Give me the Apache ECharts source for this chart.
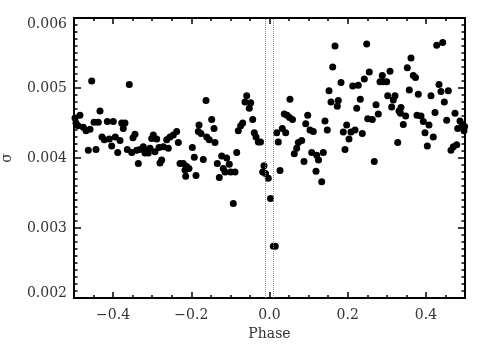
<!DOCTYPE html>
<html>
<head>
<meta charset="utf-8">
<script src="https://cdn.jsdelivr.net/npm/echarts@6/dist/echarts.min.js"></script>
<style>html,body{margin:0;padding:0;background:#fff;}#c{width:491px;height:351px;}</style>
</head>
<body>
<div id="c"></div>
<script>
var phase = [
-0.4547,-0.3586,-0.4847,-0.4335,-0.4974,-0.4949,-0.4898,-0.4762,-0.4693,-0.4591,
-0.4488,-0.4379,-0.4148,-0.3995,-0.3780,-0.3696,-0.3739,-0.4284,-0.4225,-0.4097,
-0.3944,-0.3824,-0.4036,-0.3440,-0.3491,-0.4634,-0.4437,-0.3882,-0.3637,-0.3524,
-0.3396,-0.3355,
-0.3312,-0.3228,-0.3141,-0.3056,-0.3100,-0.3184,-0.3013,-0.2972,-0.2885,-0.2826,
-0.2716,-0.2928,-0.2629,-0.2588,-0.2545,-0.2460,-0.2373,-0.2332,-0.2757,-0.2801,
-0.2289,-0.2205,-0.2118,-0.2059,-0.2161,-0.1974,-0.1923,-0.2143,-0.1880,-0.1803,
-0.1821,-0.1752,-0.1693,
-0.1624,-0.1478,-0.1419,-0.1606,-0.1540,-0.1394,-0.1223,-0.1095,-0.1335,-0.1028,
-0.1182,-0.1138,-0.0992,-0.0882,-0.1284,-0.0839,-0.0926,-0.0583,-0.0627,-0.0481,
-0.0517,-0.0685,-0.0737,-0.0798,-0.0430,-0.0389,-0.0345,-0.0286,-0.0230,-0.0141,
-0.0174,
-0.0102,-0.0031,0.0026,0.0097,0.0148,0.0184,0.0225,0.0269,0.0327,0.0414,
0.0524,0.0379,0.0448,0.0512,0.0588,0.0977,0.0926,0.1036,0.1120,0.0824,
0.0737,0.0696,0.0634,0.0882,0.1079,0.1207,0.1253,0.1189,0.1335,
0.1675,0.2486,0.1616,0.1829,0.1522,0.1573,0.1760,0.1734,0.2128,0.2271,
0.2425,0.2552,0.2322,0.2230,0.2512,0.1419,0.1478,0.1974,0.1887,0.2084,
0.2187,0.2373,0.2033,0.1931,0.1376,
0.3619,0.3524,0.3082,0.2885,0.2826,0.2910,0.2997,0.3678,0.3734,0.3575,
0.3806,0.3023,0.3210,0.3166,0.2724,0.3125,0.3363,0.3312,0.3350,0.3483,
0.2783,0.2629,0.3772,0.3422,0.3279,0.2680,
0.4276,0.4430,0.4335,0.4386,0.4573,0.4130,0.4471,0.4233,0.4744,0.3875,
0.3934,0.4532,0.4079,0.4872,0.4931,0.4813,0.4974,0.4990,0.3977,0.4189,
0.4036,0.4642,0.4701,0.4788
];
var sigma = [
0.00510,0.00505,0.00461,0.00467,0.00457,0.00450,0.00446,0.00444,0.00439,0.00441,
0.00451,0.00451,0.00452,0.00452,0.00450,0.00450,0.00442,0.00430,0.00426,0.00427,
0.00430,0.00425,0.00417,0.00434,0.00429,0.00411,0.00412,0.00408,0.00412,0.00408,
0.00411,0.00392,
0.00412,0.00416,0.00411,0.00414,0.00407,0.00407,0.00428,0.00433,0.00427,0.00415,
0.00416,0.00409,0.00426,0.00414,0.00430,0.00433,0.00438,0.00422,0.00397,0.00393,
0.00392,0.00392,0.00388,0.00385,0.00383,0.00415,0.00401,0.00374,0.00375,0.00447,
0.00438,0.00435,0.00398,
0.00482,0.00455,0.00442,0.00430,0.00426,0.00422,0.00403,0.00400,0.00392,0.00391,
0.00385,0.00380,0.00380,0.00380,0.00372,0.00408,0.00335,0.00489,0.00480,0.00479,
0.00471,0.00450,0.00446,0.00439,0.00455,0.00436,0.00430,0.00423,0.00423,0.00389,
0.00380,
0.00378,0.00371,0.00342,0.00274,0.00274,0.00436,0.00423,0.00382,0.00442,0.00436,
0.00484,0.00463,0.00461,0.00458,0.00455,0.00461,0.00449,0.00440,0.00438,0.00425,
0.00422,0.00414,0.00406,0.00395,0.00408,0.00404,0.00397,0.00381,0.00366,
0.00560,0.00563,0.00530,0.00508,0.00496,0.00480,0.00482,0.00474,0.00503,0.00504,
0.00513,0.00523,0.00484,0.00471,0.00456,0.00453,0.00440,0.00447,0.00437,0.00437,
0.00440,0.00435,0.00427,0.00412,0.00408,
0.00543,0.00529,0.00524,0.00518,0.00509,0.00509,0.00509,0.00518,0.00515,0.00497,
0.00491,0.00489,0.00489,0.00483,0.00476,0.00473,0.00472,0.00467,0.00464,0.00460,
0.00463,0.00455,0.00461,0.00448,0.00422,0.00395,
0.00561,0.00565,0.00505,0.00495,0.00496,0.00489,0.00480,0.00465,0.00464,0.00460,
0.00452,0.00454,0.00447,0.00453,0.00448,0.00442,0.00439,0.00445,0.00436,0.00430,
0.00417,0.00411,0.00416,0.00419
];
var xMajorTicks = [-0.4, -0.2, 0.0, 0.2, 0.4];
var transitLines = [-0.013, 0.011];

var points = phase.map(function (p, i) { return [p, sigma[i]]; });
var font = 'DejaVu Serif';
var ink = '#000';
var textInk = '#333';
function fmtX(v) { return (v < 0 ? '\u2212' : '') + Math.abs(v).toFixed(1); }

var chart = echarts.init(document.getElementById('c'), null, {renderer: 'canvas'});
var lineStyle = {color: ink, width: 2};
function xAx(pos, major, labels) {
  var a = {
    type: 'value', position: pos, min: -0.5, max: 0.5,
    axisLine: {show: true, onZero: false, lineStyle: lineStyle},
    splitLine: {show: false},
    axisTick: {show: true, inside: true, length: major ? 6 : 3, lineStyle: {color: ink, width: 1.5}},
    axisLabel: {show: false}
  };
  if (major) {
    a.axisTick.customValues = xMajorTicks;
    if (labels) {
      a.axisLabel = {show: true, customValues: xMajorTicks, formatter: fmtX, margin: 10,
        fontFamily: font, fontSize: 14, color: textInk};
      a.name = 'Phase'; a.nameLocation = 'middle'; a.nameGap = 29;
      a.nameTextStyle = {fontFamily: font, fontSize: 14, color: textInk};
    }
  } else {
    a.interval = 0.05;
  }
  return a;
}
function yAx(pos, labels) {
  var a = {
    type: 'value', position: pos, min: 0.002, max: 0.006, interval: 0.001,
    axisLine: {show: true, onZero: false, lineStyle: lineStyle},
    splitLine: {show: false},
    axisTick: {show: true, inside: true, length: 7, lineStyle: {color: ink, width: 1.5}},
    minorTick: {show: true, splitNumber: 10, length: 3.5, lineStyle: {color: ink, width: 1.5}},
    axisLabel: {show: false}
  };
  if (labels) {
    a.axisLabel = {show: true, margin: 7, fontFamily: font, fontSize: 14, color: textInk,
      formatter: function (v) {
        var s = v.toFixed(3);
        if (Math.abs(v - 0.006) < 1e-9) return '{top|' + s + '}';
        if (Math.abs(v - 0.002) < 1e-9) return '{bot|' + s + '}';
        return s;
      },
      rich: {
        top: {padding: [12, 0, 0, 0], fontFamily: font, fontSize: 14, color: textInk},
        bot: {padding: [0, 0, 10, 0], fontFamily: font, fontSize: 14, color: textInk}
      }};
    a.name = '\u03c3'; a.nameLocation = 'middle'; a.nameGap = 60;
    a.nameTextStyle = {fontFamily: font, fontSize: 14, color: textInk};
  }
  return a;
}

chart.setOption({
  animation: false,
  backgroundColor: '#fff',
  grid: {left: 74, right: 26, top: 18, bottom: 53, containLabel: false, outerBoundsMode: 'none'},
  xAxis: [xAx('bottom', false), xAx('bottom', true, true), xAx('top', false), xAx('top', true, false)],
  yAxis: [yAx('left', true), yAx('right', false)],
  series: [{
    type: 'scatter', xAxisIndex: 0, yAxisIndex: 0,
    data: points, symbol: 'circle', symbolSize: 7,
    itemStyle: {color: '#000', opacity: 1},
    markLine: {
      silent: true, symbol: 'none', label: {show: false},
      lineStyle: {color: '#888', type: 'dotted', width: 1},
      data: transitLines.map(function (v) { return {xAxis: v}; })
    }
  }]
});
</script>
</body>
</html>
